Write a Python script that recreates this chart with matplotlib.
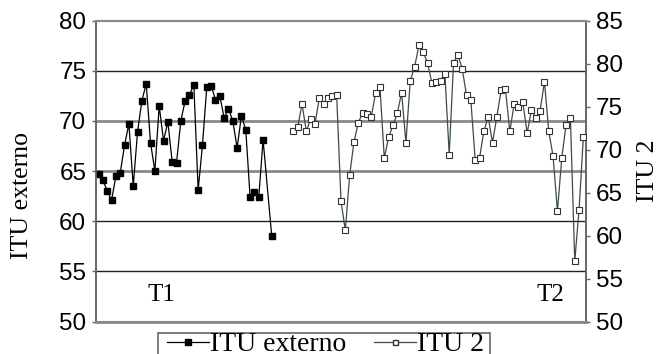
import numpy as np
import matplotlib
matplotlib.use('Agg')
import matplotlib.pyplot as plt
from matplotlib.lines import Line2D
from matplotlib.patches import Rectangle

# ITU externo (left axis), sample index on x
x_ext = list(range(0, 39)) + [40]
itu_ext = [64.7, 64.1, 63.0, 62.1, 64.5, 64.8, 67.6, 69.7, 63.5, 68.9,
           72.0, 73.7, 67.8, 65.0, 71.5, 68.0, 69.9, 65.9, 65.8, 70.0,
           72.0, 72.6, 73.6, 63.1, 67.6, 73.4, 73.5, 72.1, 72.5, 70.3,
           71.2, 70.0, 67.3, 70.5, 69.1, 62.4, 62.9, 62.4, 68.1, 58.5]

# ITU 2 (right axis)
x_itu2 = list(range(45, 113))
itu2 = [72.1, 72.6, 75.3, 72.1, 73.6, 73.0, 76.0, 75.3, 76.0, 76.2,
        76.3, 64.0, 60.6, 67.0, 70.9, 73.1, 74.3, 74.1, 73.8, 76.6,
        77.3, 69.0, 71.4, 72.8, 74.2, 76.6, 70.8, 78.0, 79.6, 82.1,
        81.3, 80.1, 77.7, 77.9, 78.0, 78.8, 69.4, 80.1, 81.0, 79.4,
        76.3, 75.7, 68.8, 69.0, 72.1, 73.8, 70.8, 73.8, 76.9, 77.0,
        72.1, 75.3, 75.0, 75.5, 71.9, 74.6, 73.7, 74.5, 77.9, 72.1,
        69.2, 62.8, 69.0, 72.9, 73.7, 57.0, 63.0, 71.5]

left_ticks = [50, 55, 60, 65, 70, 75, 80]
right_ticks = [50, 55, 60, 65, 70, 75, 80, 85]

serif = ['Liberation Serif', 'DejaVu Serif']
sans = ['Liberation Sans', 'DejaVu Sans']

fig = plt.figure(figsize=(6.58, 3.54), dpi=100)
ax = fig.add_axes([96 / 658, 1 - 321.5 / 354, 490 / 658, 301 / 354])
ax2 = ax.twinx()

# horizontal grid lines, mixed grey / black as in the scan
grid_style = {55: ('#222222', 1.0), 60: ('#222222', 1.0), 65: ('#8a8a8a', 2.0),
              70: ('#8a8a8a', 2.0), 75: ('#222222', 1.0)}
for v, (c, lw) in grid_style.items():
    ax.axhline(v, color=c, lw=lw, zorder=1)

ax.plot(x_ext, itu_ext, color='black', lw=0.9, marker='s', ms=4.4,
        mfc='black', mec='black', zorder=3)
ax2.plot(x_itu2, itu2, color='#3d4a50', lw=0.9, marker='s', ms=3.8,
         mfc='white', mec='#333333', mew=0.8, zorder=3)

ax.set_xlim(-0.6, 112.6)
ax.set_ylim(50, 80)
ax2.set_ylim(50, 85)
ax.set_yticks(left_ticks)
ax2.set_yticks(right_ticks)
ax.set_xticks([])

for a in (ax, ax2):
    for s in a.spines.values():
        s.set_color('#8a8a8a')
        s.set_linewidth(1.5)
    a.spines['left'].set_color('#666666')
    a.spines['right'].set_color('#666666')
    a.spines['left'].set_linewidth(1.2)
    a.spines['right'].set_linewidth(1.2)
    a.tick_params(axis='y', direction='out', length=3, width=1, color='#666666',
                  labelsize=17.5, pad=4)
    for lab in a.get_yticklabels():
        lab.set_family(sans)
ax.spines['bottom'].set_linewidth(2)

ax.set_ylabel('ITU externo', family=serif, fontsize=18.5)
ax.yaxis.set_label_coords(-0.128, 0.417)
ax2.set_ylabel('ITU 2', family=serif, fontsize=18.5, rotation=90)
ax2.yaxis.set_label_coords(1.104, 0.5)

ax.text(0.134, 0.088, 'T1', transform=ax.transAxes, family=serif, fontsize=18,
        ha='center', va='center')
ax.text(0.9265, 0.088, 'T2', transform=ax.transAxes, family=serif, fontsize=18,
        ha='center', va='center')

# legend below the plot; its box runs off the bottom edge like the scan
handles = [Line2D([], [], color='black', lw=0.9, marker='s', ms=4, mfc='black', mec='black'),
           Line2D([], [], color='#3d4a50', lw=0.9, marker='s', ms=3.6, mfc='white', mec='#333333')]
leg = fig.legend(handles, ['ITU externo', 'ITU 2'], loc='upper left',
                 bbox_to_anchor=(167 / 658, 1 - 332 / 354), ncol=2, frameon=False,
                 prop={'family': serif, 'size': 20}, handlelength=1.5,
                 handletextpad=0.05, columnspacing=1.0, borderpad=0.0,
                 borderaxespad=0)
fig.patches.append(Rectangle((158 / 658, -0.05), (490 - 158) / 658, 0.05 + 21 / 354,
                             transform=fig.transFigure, fill=False,
                             edgecolor='#666666', lw=1.2))

fig.savefig('out.png', dpi=100)
